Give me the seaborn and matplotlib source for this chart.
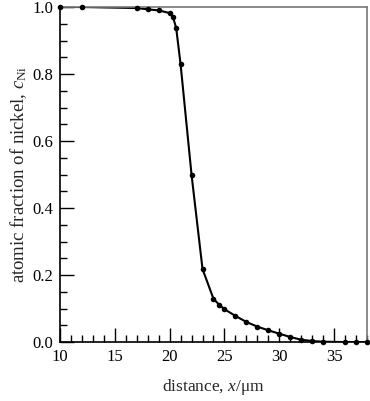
import matplotlib
matplotlib.use("Agg")
import matplotlib.pyplot as plt
import seaborn as sns
import pandas as pd
from matplotlib.ticker import MultipleLocator, FormatStrFormatter

distance = [10, 12, 17, 18, 19, 20, 20.3, 20.6, 21, 22, 23, 24, 24.5, 25, 26, 27,
            28, 29, 30, 31, 32, 33, 34, 36, 37, 38]
c_ni = [1.0, 1.0, 0.997, 0.993, 0.990, 0.982, 0.971, 0.937, 0.829, 0.499, 0.218,
        0.129, 0.112, 0.098, 0.078, 0.060, 0.046, 0.035, 0.025, 0.015, 0.007,
        0.003, 0.001, 0.0, 0.0, 0.0]

df = pd.DataFrame({"x": distance, "c": c_ni})

sns.set_theme(style="white")
plt.rcParams["font.family"] = ["Liberation Serif", "DejaVu Serif"]
plt.rcParams["mathtext.fontset"] = "custom"
plt.rcParams["mathtext.rm"] = "Liberation Serif"
plt.rcParams["mathtext.it"] = "Liberation Serif:italic"

fig = plt.figure(figsize=(3.70, 4.01), dpi=100)
ax = fig.add_axes([0.162, 0.147, 0.830, 0.8355])

sns.lineplot(data=df, x="x", y="c", ax=ax, color="black", lw=1.5, sort=False)
sns.scatterplot(data=df, x="x", y="c", ax=ax, color="black", s=16, edgecolor="black",
                linewidth=0, zorder=5, clip_on=False)

ax.set_xlim(10, 38)
ax.set_ylim(0, 1.0)
ax.xaxis.set_major_locator(MultipleLocator(5))
ax.xaxis.set_minor_locator(MultipleLocator(1))
ax.yaxis.set_major_locator(MultipleLocator(0.2))
ax.yaxis.set_minor_locator(MultipleLocator(0.05))
ax.yaxis.set_major_formatter(FormatStrFormatter("%.1f"))

ax.tick_params(which="both", direction="in", colors="black", labelsize=12,
               top=False, right=False, bottom=True, left=True)
ax.tick_params(which="major", length=10, width=1)
ax.tick_params(which="minor", length=5, width=1)
ax.tick_params(axis="x", which="major", pad=5)
ax.tick_params(axis="y", which="major", pad=5)

for s in ["left", "bottom"]:
    ax.spines[s].set_color("black")
    ax.spines[s].set_linewidth(1.2)
for s in ["top", "right"]:
    ax.spines[s].set_color("#777777")
    ax.spines[s].set_linewidth(1.2)

ax.set_xlabel("distance, $x$/μm", fontsize=12.5, labelpad=9)
ax.set_ylabel("atomic fraction of nickel, $c_{\\rm Ni}$", fontsize=13.5, labelpad=2)

fig.savefig("out.png", dpi=100)
